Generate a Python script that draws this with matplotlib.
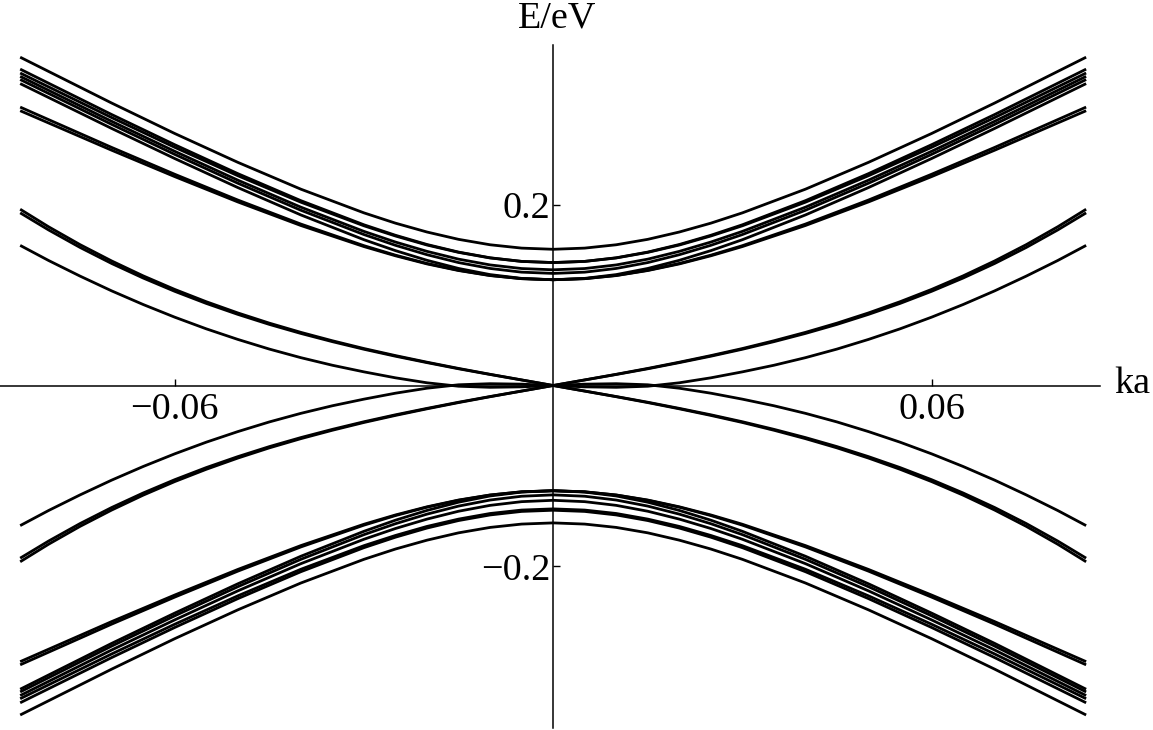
import matplotlib
matplotlib.use("Agg")
import matplotlib.pyplot as plt
import numpy as np

plt.rcParams['font.family'] = ['Liberation Serif', 'DejaVu Serif']

# k grid (ka >= 0) for the outer bands; bands are symmetric in k
K = [0, 0.005, 0.01, 0.015, 0.02, 0.025, 0.03, 0.04, 0.05, 0.06, 0.07, 0.0845]

# conduction bands (eV)
C1 = [0.1507, 0.1520, 0.1557, 0.1617, 0.1698, 0.1796, 0.1910, 0.2172, 0.2469, 0.2788, 0.3125, 0.3632]
C2 = [0.1360, 0.1373, 0.1413, 0.1476, 0.1560, 0.1662, 0.1778, 0.2045, 0.2344, 0.2664, 0.2998, 0.3500]
C3 = [0.1360, 0.1373, 0.1411, 0.1473, 0.1554, 0.1654, 0.1767, 0.2028, 0.2321, 0.2635, 0.2964, 0.3457]
C4 = [0.1280, 0.1294, 0.1334, 0.1398, 0.1484, 0.1587, 0.1705, 0.1973, 0.2272, 0.2591, 0.2923, 0.3420]
C5 = [0.1240, 0.1254, 0.1295, 0.1360, 0.1447, 0.1551, 0.1670, 0.1939, 0.2238, 0.2557, 0.2889, 0.3385]
C6 = [0.1170, 0.1185, 0.1227, 0.1295, 0.1385, 0.1492, 0.1613, 0.1887, 0.2190, 0.2511, 0.2844, 0.3340]
C7 = [0.1170, 0.1182, 0.1218, 0.1275, 0.1350, 0.1442, 0.1547, 0.1786, 0.2052, 0.2337, 0.2634, 0.3080]
C8 = [0.1170, 0.1182, 0.1216, 0.1272, 0.1345, 0.1435, 0.1537, 0.1770, 0.2031, 0.2311, 0.2603, 0.3040]

# valence bands (eV)
V1 = [-0.1520, -0.1533, -0.1570, -0.1630, -0.1711, -0.1809, -0.1923, -0.2185, -0.2482, -0.2801, -0.3138, -0.3645]
V2 = [-0.1380, -0.1393, -0.1432, -0.1494, -0.1577, -0.1678, -0.1794, -0.2060, -0.2358, -0.2677, -0.3010, -0.3510]
V3 = [-0.1365, -0.1378, -0.1416, -0.1478, -0.1559, -0.1659, -0.1772, -0.2033, -0.2327, -0.2641, -0.2970, -0.3465]
V4 = [-0.1270, -0.1285, -0.1326, -0.1391, -0.1478, -0.1582, -0.1701, -0.1971, -0.2272, -0.2593, -0.2926, -0.3430]
V5 = [-0.1210, -0.1225, -0.1267, -0.1334, -0.1423, -0.1529, -0.1650, -0.1923, -0.2226, -0.2548, -0.2883, -0.3390]
V6 = [-0.1164, -0.1179, -0.1222, -0.1291, -0.1382, -0.1490, -0.1613, -0.1889, -0.2194, -0.2518, -0.2853, -0.3360]
V7 = [-0.1164, -0.1176, -0.1212, -0.1270, -0.1346, -0.1439, -0.1545, -0.1786, -0.2054, -0.2341, -0.2640, -0.3090]
V8 = [-0.1164, -0.1176, -0.1211, -0.1267, -0.1342, -0.1432, -0.1535, -0.1771, -0.2035, -0.2318, -0.2612, -0.3055]

# finer k grid for the low-energy bands
KM = [0, 0.005, 0.01, 0.015, 0.02, 0.025, 0.03, 0.035, 0.04, 0.045, 0.05,
      0.055, 0.06, 0.065, 0.07, 0.075, 0.08, 0.0845]
# low-energy even band (single line, touches E = 0 near the centre)
A1 = [0.0, -0.0015, -0.0020, -0.0008, 0.0030, 0.0085, 0.0151, 0.0224, 0.0308, 0.0403,
      0.0510, 0.0627, 0.0756, 0.0896, 0.1047, 0.1210, 0.1383, 0.1550]
A2 = [-v for v in A1]
# crossing pair through the origin: value at -k
B1 = [0.0, 0.0062, 0.0124, 0.0189, 0.0258, 0.0331, 0.0409, 0.0495, 0.0588, 0.0690,
      0.0803, 0.0927, 0.1063, 0.1213, 0.1378, 0.1558, 0.1756, 0.1950]
B2 = [0.0, 0.0061, 0.0122, 0.0185, 0.0253, 0.0324, 0.0401, 0.0485, 0.0576, 0.0676,
      0.0787, 0.0908, 0.1042, 0.1189, 0.1350, 0.1527, 0.1721, 0.1910]
B3 = [-v for v in B1]
B4 = [-v for v in B2]

outer_bands = [C1, C2, C3, C4, C5, C6, C7, C8, V1, V2, V3, V4, V5, V6, V7, V8]
even_low = [A1, A2]
odd_low = [B1, B2, B3, B4]

xtick_vals = [-0.06, 0.06]
xtick_labels = ["\u22120.06", "0.06"]
ytick_vals = [0.2, -0.2]
ytick_labels = ["0.2", "\u22120.2"]

W, H = 1153, 730
fig = plt.figure(figsize=(W / 100, H / 100), dpi=100)
ax = fig.add_axes([0, 2 / H, 1100 / W, 683 / H])
ax.set_xlim(-0.0877, 0.0867)
ax.set_ylim(-0.3789, 0.3767)

LW = 2.0


def mirror_k(kk):
    kk = np.array(kk)
    return np.concatenate([-kk[::-1], kk[1:]])


def even(e):
    e = np.array(e)
    return np.concatenate([e[::-1], e[1:]])


def odd(e):
    e = np.array(e)
    return np.concatenate([e[::-1], -e[1:]])


for band in outer_bands:
    ax.plot(mirror_k(K), even(band), color='black', lw=LW, solid_capstyle='butt')
for band in even_low:
    ax.plot(mirror_k(KM), even(band), color='black', lw=LW, solid_capstyle='butt')
for band in odd_low:
    ax.plot(mirror_k(KM), odd(band), color='black', lw=LW, solid_capstyle='butt')

for s in ['top', 'right']:
    ax.spines[s].set_visible(False)
ax.spines['left'].set_position(('data', 0))
ax.spines['bottom'].set_position(('data', 0))
ax.spines['left'].set_linewidth(1.1)
ax.spines['bottom'].set_linewidth(1.1)

ax.set_xticks(xtick_vals)
ax.set_xticklabels(xtick_labels)
ax.set_yticks(ytick_vals)
ax.set_yticklabels(ytick_labels)
ax.tick_params(axis='both', direction='in', length=5, width=1, labelsize=27.5)
ax.tick_params(axis='x', pad=5)
ax.tick_params(axis='y', pad=2)
ax.patch.set_visible(False)

fig.text(557 / W, 1 - 18 / H, "E/eV", ha='center', va='center', fontsize=27.5)
fig.text(1132 / W, 1 - 384 / H, "ka", ha='center', va='center', fontsize=27.5)

fig.savefig("out.png", dpi=100, facecolor='white')
